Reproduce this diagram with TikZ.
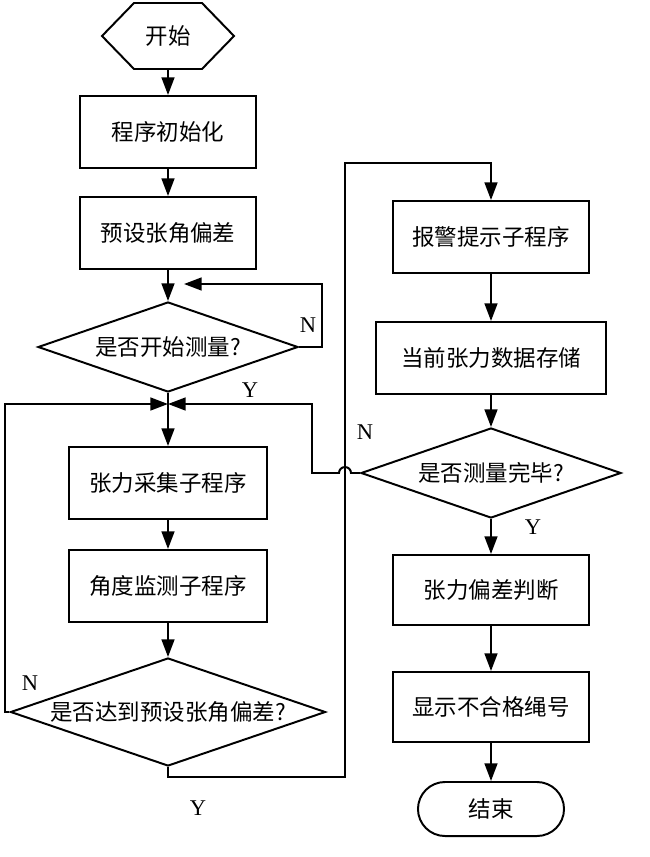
\documentclass[tikz,border=0pt]{standalone}
\usepackage{fontspec}
\setmainfont{Liberation Serif}
\newfontfamily\cjk{Noto Sans CJK SC}
\usetikzlibrary{shapes.geometric,arrows.meta}

\begin{document}
\begin{tikzpicture}[x=0.025cm, y=-0.025cm, line width=1.4pt,
    every node/.style={font=\cjk\fontsize{16pt}{19pt}\selectfont, inner sep=0pt},
    procbox/.style={draw, rectangle, minimum height=1.8cm},
    choice/.style={draw, diamond, aspect=2.9},
    flow/.style={-{Triangle[length=0.44cm,width=0.32cm]}},
    branch/.style={font=\rmfamily\fontsize{16pt}{18pt}\selectfont}]

    % Page frame
    \useasboundingbox (0,0) rectangle (650,857);

    % Left column
    \node[minimum width=3.25cm, minimum height=1.6cm] (start) at (168,36) {开始};
    \draw ([xshift=0.8cm]start.north west) -- ([xshift=-0.8cm]start.north east) -- (start.east)
        -- ([xshift=-0.8cm]start.south east) -- ([xshift=0.8cm]start.south west) -- (start.west) -- cycle;
    \node[procbox, minimum width=4.4cm] (init) at (168,132) {程序初始化};
    \node[procbox, minimum width=4.4cm] (preset) at (168,233) {预设张角偏差};
    \node[choice, minimum width=6.5cm, minimum height=2.25cm] (begin) at (168,347) {是否开始测量?};
    \coordinate (join) at (168,404);
    \coordinate (retry) at (168,284);
    \node[procbox, minimum width=4.95cm] (collect) at (168,483) {张力采集子程序};
    \node[procbox, minimum width=4.95cm] (monitor) at (168,586) {角度监测子程序};
    \node[choice, minimum width=7.875cm, minimum height=2.7cm] (reach) at (168,712) {是否达到预设张角偏差?};

    % Right column
    \node[procbox, minimum width=4.875cm] (alarm) at (491,237) {报警提示子程序};
    \node[procbox, minimum width=5.75cm] (store) at (491,358) {当前张力数据存储};
    \node[choice, minimum width=6.5cm, minimum height=2.25cm] (done) at (491,473) {是否测量完毕?};
    \node[procbox, minimum width=4.875cm, minimum height=1.75cm] (judge) at (491,590) {张力偏差判断};
    \node[procbox, minimum width=4.875cm, minimum height=1.75cm] (show) at (491,707) {显示不合格绳号};
    \node[draw, rounded corners=0.675cm, minimum width=3.65cm, minimum height=1.35cm] (stop) at (491,809) {结束};

    % Main flow
    \draw[flow] (start) -- (init);
    \draw[flow] (init) -- (preset);
    \draw[flow] (preset) -- (begin);
    \draw (begin.south) -- (join);
    \draw[flow] (join) -- (collect);
    \draw[flow] (collect) -- (monitor);
    \draw[flow] (monitor) -- (reach);
    \draw[flow] (alarm) -- (store);
    \draw[flow] (store) -- (done);
    \draw[flow] (done) -- (judge);
    \draw[flow] (judge) -- (show);
    \draw[flow] (show) -- (stop);

    % Loops and branches
    \draw[flow] (begin.east) -- (322,347) |- ([xshift=0.4cm]retry);
    \draw[flow] (reach.west) -- (5,712) |- (join);
    \draw[flow] (reach.south) -- (168,777) -| (345,163) -| (alarm.north);
    \draw[flow] (done.west) -- (351,473) arc[start angle=0, end angle=180, radius=0.15cm]
        -- (312,473) |- (join);

    % Branch labels
    \node[branch] (nBegin) at (308,325) {N};
    \node[branch] (yBegin) at (250,390) {Y};
    \node[branch] (nReach) at (30,683) {N};
    \node[branch] (yReach) at (198,808) {Y};
    \node[branch] (nDone) at (365,432) {N};
    \node[branch] (yDone) at (533,527) {Y};

\end{tikzpicture}
\end{document}
